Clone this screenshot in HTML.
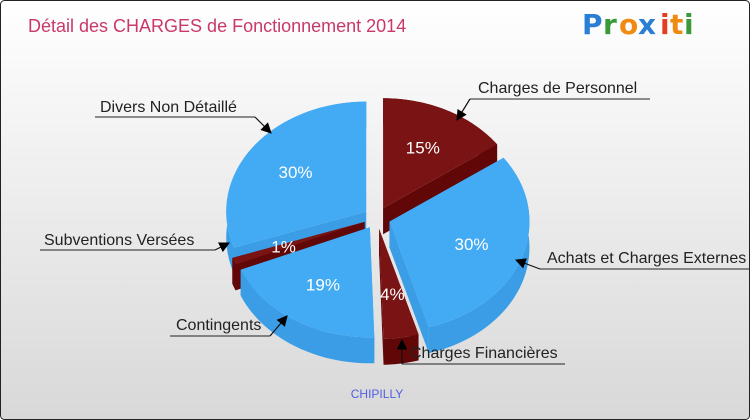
<!DOCTYPE html>
<html><head><meta charset="utf-8"><style>
body{margin:0;width:750px;height:420px;overflow:hidden;font-family:"Liberation Sans",sans-serif;}
svg{display:block}
</style></head><body>
<svg id="c" width="750" height="420">
<defs>
<linearGradient id="bg" x1="0" y1="0" x2="0" y2="1"><stop offset="0" stop-color="#ffffff"/><stop offset="1" stop-color="#d8d8d8"/></linearGradient>
<marker id="ar" viewBox="0 0 10 10" refX="9" refY="5" markerWidth="9" markerHeight="9" orient="auto"><path d="M0,0 L10,5 L0,10 z" fill="#000"/></marker>
</defs>
<rect x="0.5" y="0.5" width="749" height="419" rx="4" fill="url(#bg)" stroke="#222"/>
<text x="28" y="32" font-size="18" fill="#c9386a">Détail des CHARGES de Fonctionnement 2014</text>
<g font-size="28" font-weight="bold" font-family="DejaVu Sans, sans-serif">
<text x="582" y="34" fill="#2a7fd4">P</text><text x="603" y="34" fill="#3a9a3a">r</text><text x="619" y="34" fill="#f08a10">o</text><text x="638" y="34" fill="#2a7fd4">x</text><text x="660" y="34" fill="#e04020">i</text><text x="670" y="34" fill="#f08a10">t</text><text x="684" y="34" fill="#3a9a3a">i</text>
</g>
<g id="pie"></g>
<g id="ann"></g>
<text x="377" y="398" font-size="12" fill="#4f5fe0" text-anchor="middle">CHIPILLY</text>
</svg>
<script>
const categories=["Charges de Personnel","Achats et Charges Externes","Charges Financières","Contingents","Subventions Versées","Divers Non Détaillé"];
const values=[15,30,4,19,1,30];
const pctLabels=["15%","30%","4%","19%","1%","30%"];
const colorsTop=["#7a1414","#42abf4","#7a1414","#42abf4","#7a1414","#42abf4"];
const colorsSide=["#620707","#3a9de6","#620707","#3a9de6","#620707","#3a9de6"];
const NS="http://www.w3.org/2000/svg";
const cx=377,cy=218,rx=140,ry=110,depth=26,expl=11;
const total=values.reduce((a,b)=>a+b,0);
function pt(ox,oy,t,r){return [ox+rx*r*Math.sin(t),oy-ry*r*Math.cos(t)];}
function mk(tag,attrs,parent){const e=document.createElementNS(NS,tag);for(const k in attrs)e.setAttribute(k,attrs[k]);parent.appendChild(e);return e;}
const pie=document.getElementById('pie');
let a=0;const slices=[];
values.forEach((v,i)=>{const a0=a,a1=a+v/total*2*Math.PI;a=a1;const m=(a0+a1)/2;
 const ox=cx+expl*Math.sin(m)*1.2,oy=cy-expl*Math.cos(m);slices.push({i,a0,a1,m,ox,oy});});
const order=slices.slice().sort((p,q)=>(-Math.cos(p.m))-(-Math.cos(q.m)));
order.forEach(s=>{
 const g=mk('g',{},pie);
 
 
 const n=40;let top=[];for(let k=0;k<=n;k++){top.push(pt(s.ox,s.oy,s.a0+(s.a1-s.a0)*k/n,1));}
 [s.a0,s.a1].forEach(t=>{const e=pt(s.ox,s.oy,t,1);
  mk('polygon',{points:`${s.ox},${s.oy} ${e[0]},${e[1]} ${e[0]},${e[1]+depth} ${s.ox},${s.oy+depth}`,fill:colorsSide[s.i]},g);});
 const wall=top.map(p=>p.join(',')).concat(top.slice().reverse().map(p=>p[0]+','+(p[1]+depth)));
 mk('polygon',{points:wall.join(' '),fill:colorsSide[s.i]},g);
 const d='M'+s.ox+','+s.oy+' L'+top.map(p=>p.join(',')).join(' L')+' Z';
 mk('path',{d:d,fill:colorsTop[s.i]},g);
 const lp=pt(s.ox,s.oy,s.m,s.i==2?0.6:0.62);
 const tx=mk('text',{x:lp[0],y:lp[1]+6,'font-size':17,fill:'#fff','text-anchor':'middle'},g);
 tx.textContent=pctLabels[s.i];
 
 
});
const ann=document.getElementById('ann');
const anns=[
 {t:categories[0],tx:478,ty:93,ux1:470,ux2:650,uy:99,ax:457,ay:120,sx:470},
 {t:categories[1],tx:547,ty:263,ux1:540,ux2:750,uy:269,ax:516,ay:260,sx:540},
 {t:categories[2],tx:410,ty:358,ux1:402,ux2:565,uy:364,ax:402,ay:340,sx:402},
 {t:categories[3],tx:176,ty:330,ux1:170,ux2:270,uy:336,ax:287,ay:316,sx:270},
 {t:categories[4],tx:44,ty:245,ux1:40,ux2:215,uy:250,ax:229,ay:243,sx:215},
 {t:categories[5],tx:100,ty:112,ux1:95,ux2:255,uy:117,ax:271,ay:133,sx:255}];
anns.forEach(o=>{const g=mk('g',{},ann);
 
 
 const t=mk('text',{x:o.tx,y:o.ty,'font-size':16,fill:'#222'},g);t.textContent=o.t;
 mk('line',{x1:o.ux1,y1:o.uy,x2:o.ux2,y2:o.uy,stroke:'#222','stroke-width':1},g);
 mk('line',{x1:o.sx,y1:o.uy,x2:o.ax,y2:o.ay,stroke:'#111','stroke-width':1.2,'marker-end':'url(#ar)'},g);
});
</script>
</body></html>
